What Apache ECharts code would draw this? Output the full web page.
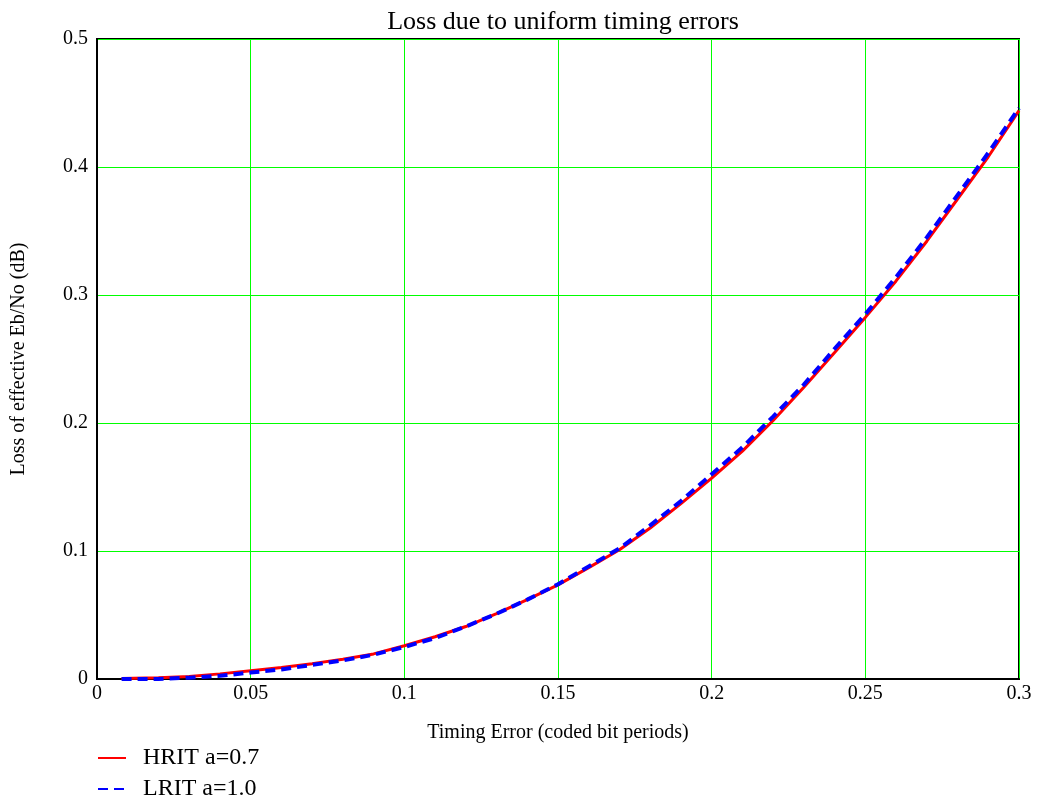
<!DOCTYPE html>
<html>
<head>
<meta charset="utf-8">
<script src="https://cdn.jsdelivr.net/npm/echarts@6/dist/echarts.min.js"></script>
<style>
  html, body { margin: 0; padding: 0; background: #fff; }
  #chart { width: 1038px; height: 807px; }
</style>
</head>
<body>
<div id="chart"></div>
<script>
// Timing error in coded bit periods
const timingError = [0.008, 0.02, 0.03, 0.04, 0.05, 0.06, 0.07, 0.08, 0.09, 0.10,
  0.11, 0.12, 0.13, 0.14, 0.15, 0.16, 0.17, 0.18, 0.19, 0.20,
  0.21, 0.22, 0.23, 0.24, 0.25, 0.26, 0.27, 0.28, 0.29, 0.30];

// Loss of effective Eb/No (dB), HRIT roll-off 0.7
const hritLoss = [0.0003, 0.001, 0.002, 0.004, 0.0065, 0.009, 0.012, 0.0155, 0.0196, 0.026,
  0.033, 0.041, 0.051, 0.062, 0.0735, 0.087, 0.101, 0.118, 0.137, 0.157,
  0.178, 0.202, 0.228, 0.255, 0.2825, 0.311, 0.342, 0.375, 0.408, 0.444];

// Loss of effective Eb/No (dB), LRIT roll-off 1.0
const lritLoss = [0.0, 0.0, 0.001, 0.0025, 0.005, 0.0075, 0.011, 0.0145, 0.019, 0.025,
  0.032, 0.041, 0.051, 0.062, 0.074, 0.088, 0.102, 0.120, 0.139, 0.160,
  0.181, 0.205, 0.230, 0.258, 0.285, 0.314, 0.345, 0.378, 0.411, 0.446];

const seriesNames = ['HRIT a=0.7', 'LRIT a=1.0'];

const serif = 'Liberation Serif, Times New Roman, serif';
const pairs = ys => timingError.map((x, i) => [x, ys[i]]);

const chart = echarts.init(document.getElementById('chart'));
chart.setOption({
  animation: false,
  backgroundColor: '#ffffff',
  title: {
    text: 'Loss due to uniform timing errors',
    left: 558, top: 4,
    textAlign: 'center',
    textStyle: { fontFamily: serif, fontSize: 26, fontWeight: 'normal', color: '#000' }
  },
  grid: {
    left: 97, right: 19, top: 39, bottom: 128,
    show: true, borderColor: '#000', borderWidth: 2, backgroundColor: 'transparent'
  },
  legend: {
    orient: 'vertical',
    left: 97, top: 746,
    padding: 0,
    itemWidth: 28, itemHeight: 14, itemGap: 7,
    data: seriesNames,
    itemStyle: { color: 'transparent', borderColor: 'transparent', borderWidth: 0 },
    textStyle: { fontFamily: serif, fontSize: 24, color: '#000', padding: [0, 0, 0, 12] }
  },
  xAxis: {
    type: 'value', min: 0, max: 0.3, interval: 0.05,
    name: 'Timing Error (coded bit periods)',
    nameLocation: 'middle', nameGap: 44,
    nameTextStyle: { fontFamily: serif, fontSize: 20, color: '#000' },
    axisLine: { show: true, lineStyle: { color: '#000', width: 2 } },
    axisTick: { show: false },
    axisLabel: { fontFamily: serif, fontSize: 20, color: '#000', margin: 5 },
    splitLine: { show: true, lineStyle: { color: '#00ff00', width: 1 } }
  },
  yAxis: {
    type: 'value', min: 0, max: 0.5, interval: 0.1,
    name: 'Loss of effective Eb/No (dB)',
    nameLocation: 'middle', nameGap: 68,
    nameTextStyle: { fontFamily: serif, fontSize: 20, color: '#000' },
    axisLine: { show: true, lineStyle: { color: '#000', width: 2 } },
    axisTick: { show: false },
    axisLabel: { fontFamily: serif, fontSize: 20, color: '#000', margin: 9 },
    splitLine: { show: true, lineStyle: { color: '#00ff00', width: 1 } }
  },
  series: [
    {
      name: seriesNames[0], type: 'line', data: pairs(hritLoss),
      showSymbol: false, symbol: 'none',
      lineStyle: { color: '#ff0000', width: 3 },
      itemStyle: { color: '#ff0000' },
      z: 2
    },
    {
      name: seriesNames[1], type: 'line', data: pairs(lritLoss),
      showSymbol: false, symbol: 'none',
      lineStyle: { color: '#0000ff', width: 4, type: [10, 6] },
      itemStyle: { color: '#0000ff' },
      z: 3
    }
  ]
});
</script>
</body>
</html>
